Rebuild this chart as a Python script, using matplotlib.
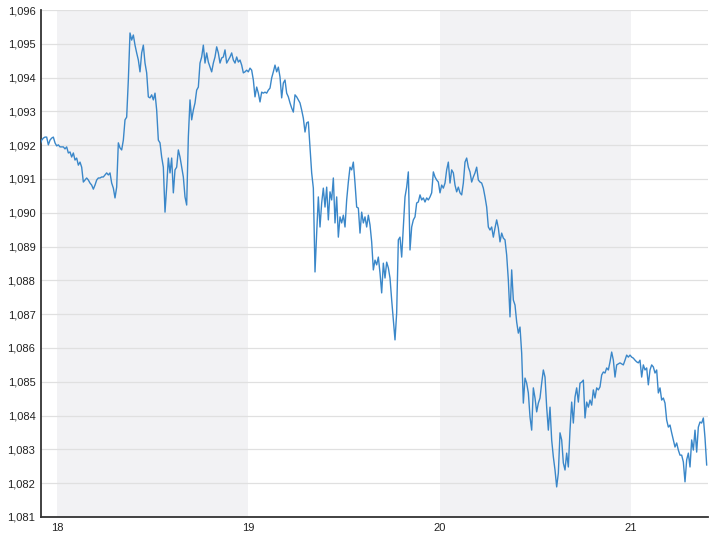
import matplotlib
matplotlib.use("Agg")
import matplotlib.pyplot as plt
from matplotlib.ticker import FuncFormatter, FixedLocator
import numpy as np

# time grid: start day (fractional) and step in days
start_day = 17.9111
step_day = 0.0087124

prices = [
    1.09201, 1.09215, 1.09221, 1.09224, 1.09224, 1.09201, 1.09215, 1.09221, 1.09224, 1.09207,
    1.09198, 1.09201, 1.09195, 1.09195, 1.09195, 1.09189, 1.09195, 1.09177, 1.09180, 1.09165,
    1.09177, 1.09156, 1.09162, 1.09141, 1.09150, 1.09135, 1.09091, 1.09097, 1.09103, 1.09097,
    1.09088, 1.09082, 1.09070, 1.09082, 1.09097, 1.09103, 1.09103, 1.09106, 1.09106, 1.09112,
    1.09118, 1.09112, 1.09118, 1.09088, 1.09073, 1.09044, 1.09076, 1.09207, 1.09192, 1.09186,
    1.09215, 1.09275, 1.09283, 1.09393, 1.09532, 1.09511, 1.09526, 1.09496, 1.09473, 1.09452,
    1.09417, 1.09473, 1.09496, 1.09443, 1.09414, 1.09343, 1.09340, 1.09349, 1.09334, 1.09354,
    1.09304, 1.09215, 1.09207, 1.09165, 1.09135, 1.09002, 1.09076, 1.09162, 1.09118, 1.09162,
    1.09059, 1.09127, 1.09135, 1.09186, 1.09165, 1.09135, 1.09106, 1.09047, 1.09023, 1.09224,
    1.09334, 1.09275, 1.09304, 1.09325, 1.09363, 1.09372, 1.09443, 1.09461, 1.09496, 1.09443,
    1.09473, 1.09446, 1.09431, 1.09417, 1.09443, 1.09461, 1.09491, 1.09473, 1.09443, 1.09458,
    1.09461, 1.09482, 1.09443, 1.09452, 1.09461, 1.09473, 1.09452, 1.09443, 1.09461, 1.09446,
    1.09452, 1.09437, 1.09414, 1.09417, 1.09422, 1.09417, 1.09428, 1.09422, 1.09393, 1.09343,
    1.09372, 1.09354, 1.09328, 1.09357, 1.09354, 1.09357, 1.09354, 1.09363, 1.09369, 1.09399,
    1.09417, 1.09437, 1.09417, 1.09431, 1.09402, 1.09340, 1.09384, 1.09393, 1.09354, 1.09343,
    1.09325, 1.09310, 1.09298, 1.09349, 1.09343, 1.09334, 1.09325, 1.09304, 1.09280, 1.09239,
    1.09266, 1.09269, 1.09195, 1.09118, 1.09073, 1.08825, 1.08940, 1.09047, 1.08958, 1.09029,
    1.09073, 1.09017, 1.09076, 1.08979, 1.09062, 1.09038, 1.09103, 1.08970, 1.09047, 1.08928,
    1.08988, 1.08970, 1.08993, 1.08958, 1.09038, 1.09091, 1.09135, 1.09127, 1.09150, 1.09088,
    1.09017, 1.09014, 1.08940, 1.09002, 1.08970, 1.08988, 1.08958, 1.08993, 1.08964, 1.08914,
    1.08831, 1.08860, 1.08846, 1.08869, 1.08822, 1.08763, 1.08851, 1.08807, 1.08854, 1.08837,
    1.08807, 1.08742, 1.08683, 1.08624, 1.08704, 1.08920, 1.08928, 1.08869, 1.08958, 1.09047,
    1.09076, 1.09121, 1.08890, 1.08958, 1.08979, 1.08988, 1.09029, 1.09032, 1.09053, 1.09038,
    1.09044, 1.09032, 1.09044, 1.09038, 1.09047, 1.09059, 1.09121, 1.09106, 1.09097, 1.09091,
    1.09059, 1.09082, 1.09073, 1.09088, 1.09127, 1.09150, 1.09088, 1.09127, 1.09118, 1.09082,
    1.09062, 1.09076, 1.09059, 1.09053, 1.09088, 1.09150, 1.09162, 1.09135, 1.09121, 1.09091,
    1.09106, 1.09118, 1.09135, 1.09097, 1.09091, 1.09088, 1.09073, 1.09047, 1.09017, 1.08958,
    1.08949, 1.08958, 1.08928, 1.08955, 1.08979, 1.08955, 1.08914, 1.08940, 1.08925, 1.08920,
    1.08875, 1.08801, 1.08692, 1.08831, 1.08742, 1.08727, 1.08677, 1.08644, 1.08662, 1.08585,
    1.08437, 1.08511, 1.08496, 1.08467, 1.08396, 1.08357, 1.08482, 1.08452, 1.08411, 1.08437,
    1.08452, 1.08496, 1.08535, 1.08514, 1.08425, 1.08357, 1.08425, 1.08328, 1.08278, 1.08239,
    1.08189, 1.08230, 1.08349, 1.08328, 1.08260, 1.08239, 1.08289, 1.08248, 1.08357, 1.08440,
    1.08378, 1.08455, 1.08482, 1.08440, 1.08496, 1.08499, 1.08505, 1.08393, 1.08440, 1.08425,
    1.08446, 1.08431, 1.08476, 1.08452, 1.08482, 1.08476, 1.08485, 1.08520, 1.08529, 1.08526,
    1.08541, 1.08535, 1.08559, 1.08588, 1.08564, 1.08514, 1.08550, 1.08553, 1.08556, 1.08553,
    1.08550, 1.08564, 1.08579, 1.08573, 1.08579, 1.08573, 1.08570, 1.08564, 1.08559, 1.08556,
    1.08564, 1.08514, 1.08550, 1.08535, 1.08541, 1.08491, 1.08535, 1.08550, 1.08544, 1.08526,
    1.08535, 1.08467, 1.08482, 1.08446, 1.08452, 1.08437, 1.08387, 1.08366, 1.08372, 1.08349,
    1.08328, 1.08307, 1.08319, 1.08298, 1.08283, 1.08283, 1.08263, 1.08204, 1.08269, 1.08289,
    1.08248, 1.08328, 1.08298, 1.08357, 1.08292, 1.08366, 1.08381, 1.08378, 1.08393, 1.08334,
    1.08254,
]

x_ticks = [18, 19, 20, 21]
x_tick_labels = ["18", "19", "20", "21"]
shaded_days = [(18, 19), (20, 21)]
y_ticks = [1.081, 1.082, 1.083, 1.084, 1.085, 1.086, 1.087, 1.088,
           1.089, 1.090, 1.091, 1.092, 1.093, 1.094, 1.095, 1.096]
x_range = (17.9163, 21.403)
y_range = (1.081, 1.096)

days = start_day + step_day * np.arange(len(prices))

plt.rcParams['font.family'] = ['Liberation Sans', 'DejaVu Sans']

fig = plt.figure(figsize=(7.2, 5.4), dpi=100)
ax = fig.add_axes([41 / 720, 1 - 517 / 540, (708 - 41) / 720, (517 - 10) / 540])

for a, b in shaded_days:
    ax.axvspan(a, b, color="#f2f2f4", lw=0, zorder=0)

for yt in y_ticks:
    ax.axhline(yt, color="#e0e0e0", lw=0.9, zorder=1)

ax.plot(days, prices, color="#3a87c9", lw=1.0, zorder=3)

ax.set_xlim(*x_range)
ax.set_ylim(*y_range)
ax.xaxis.set_major_locator(FixedLocator(x_ticks))
ax.set_xticklabels(x_tick_labels)
ax.yaxis.set_major_locator(FixedLocator(y_ticks))
ax.yaxis.set_major_formatter(FuncFormatter(lambda v, p: f"{v:.3f}".replace(".", ",")))

for s in ["top", "right"]:
    ax.spines[s].set_visible(False)
for s in ["left", "bottom"]:
    ax.spines[s].set_color("#333333")
    ax.spines[s].set_linewidth(1.3)

ax.tick_params(axis="y", length=0, pad=4, labelsize=8, colors="#222222")
ax.tick_params(axis="x", length=0, pad=4, labelsize=8, colors="#222222")
ax.set_facecolor("white")

fig.savefig("out.png", dpi=100)
